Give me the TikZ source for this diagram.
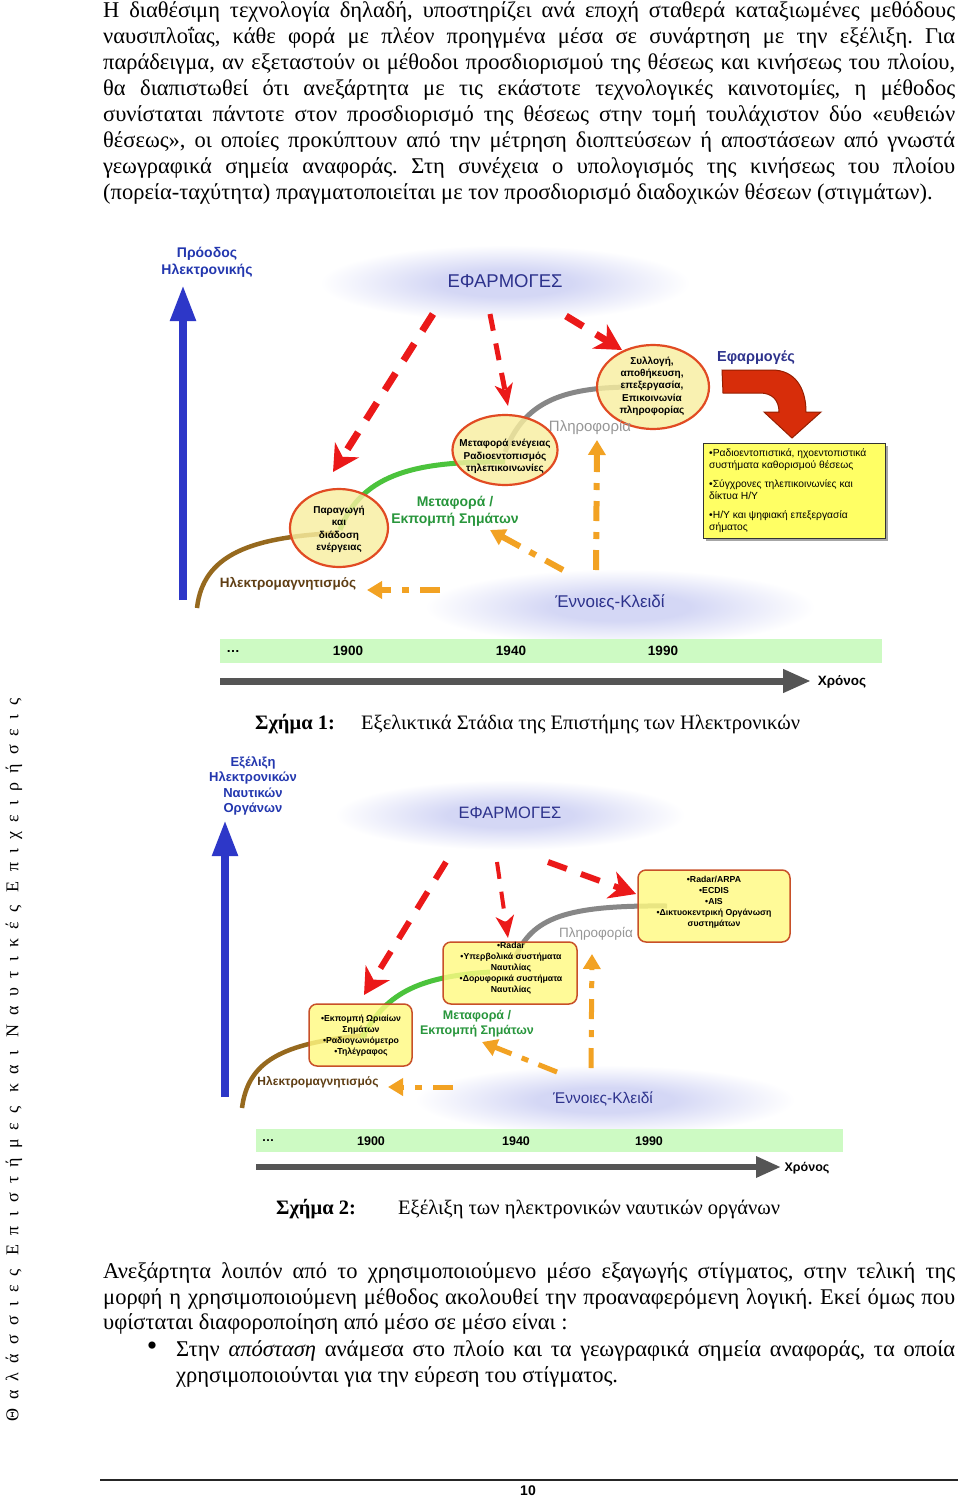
\documentclass[tikz,border=0pt]{standalone}
\usepackage{fontspec}
\usepackage{graphicx}
\setmainfont{Liberation Serif}
\newfontfamily\arial{Liberation Sans}
\newfontfamily\vertfont[LetterSpace=51]{Liberation Serif}
\usetikzlibrary{arrows.meta,shapes.geometric}
\frenchspacing

\definecolor{bluearr}{RGB}{45,55,200}
\definecolor{bluelab}{RGB}{35,55,175}
\definecolor{navy}{RGB}{45,50,140}
\definecolor{redarr}{RGB}{235,25,25}
\definecolor{orangearr}{RGB}{242,162,35}
\definecolor{browncurve}{RGB}{150,105,30}
\definecolor{greencurve}{RGB}{75,195,60}
\definecolor{graycurve}{RGB}{135,135,135}
\definecolor{greentext}{RGB}{40,150,60}
\definecolor{graytext}{RGB}{150,150,150}
\definecolor{browntext}{RGB}{95,62,20}
\definecolor{ellfill}{RGB}{248,238,160}
\definecolor{ellborder}{RGB}{225,75,35}
\definecolor{boxfill}{RGB}{255,250,130}
\definecolor{boxborder}{RGB}{200,80,40}
\definecolor{ybox}{RGB}{255,255,100}
\definecolor{timebar}{RGB}{205,250,195}
\definecolor{timearrow}{RGB}{85,85,85}
\definecolor{glowc}{RGB}{212,215,245}
\definecolor{bigred}{RGB}{215,45,10}
\definecolor{bigredb}{RGB}{150,30,0}

\pgfdeclareradialshading{glowshade}{\pgfpoint{0bp}{0bp}}{color(0bp)=(glowc); color(9bp)=(glowc); color(25bp)=(white); color(50bp)=(white)}

\begin{document}
\begin{tikzpicture}[x=1pt,y=-1pt,
  body/.style={anchor=base west, inner sep=0pt, font=\frenchspacing\fontsize{22.5}{26}\selectfont},
  captext/.style={anchor=base west, inner sep=0pt, font=\fontsize{20.5}{24}\selectfont},
  sanslab/.style={inner sep=0pt, align=center},
  glow/.style={shading=glowshade},
  redarrow/.style={draw=redarr, line width=7pt, dash pattern=on 20pt off 15pt, -{Stealth[length=26pt,width=28pt,inset=8pt]}},
  redthin/.style={draw=redarr, line width=5pt, dash pattern=on 17pt off 13pt, -{Stealth[length=22pt,width=18pt,inset=6pt]}},
  orangearrow/.style={draw=orangearr, line width=6pt, dash pattern=on 20pt off 11pt on 7pt off 11pt, -{Triangle[length=15pt,width=17pt]}},
  bluearrow/.style={draw=bluearr, line width=8pt, -{Triangle[length=36pt,width=24pt]}},
  timeline/.style={draw=timearrow, line width=7pt, -{Triangle[length=28pt,width=22pt]}},
  brownline/.style={draw=browncurve, line width=4.5pt},
  greenline/.style={draw=greencurve, line width=5pt},
  grayline/.style={draw=graycurve, line width=5pt},
  ellshape/.style={ellipse, draw=ellborder, line width=2.2pt, fill=ellfill, fill opacity=0.82, inner sep=0pt},
  elltext/.style={inner sep=0pt, align=center, font=\arial\bfseries\fontsize{10}{12.3}\selectfont},
  rbox/.style={rectangle, rounded corners=8pt, draw=boxborder, line width=1.5pt, fill=boxfill, fill opacity=0.82, inner sep=0pt},
  rboxtext/.style={inner sep=0pt, align=center, font=\arial\bfseries\fontsize{8.7}{10.9}\selectfont},
]
\fill[white] (0,0) rectangle (960,1501);
\useasboundingbox (0,0) rectangle (960,1501);

% ---------------- top paragraph ----------------
\node[body] (t1) at (103,18) {\makebox[852pt][s]{Η διαθέσιμη τεχνολογία δηλαδή, υποστηρίζει ανά εποχή σταθερά καταξιωμένες μεθόδους}};
\node[body] (t2) at (103,43.9) {\makebox[852pt][s]{ναυσιπλοΐας, κάθε φορά με πλέον προηγμένα μέσα σε συνάρτηση με την εξέλιξη. Για}};
\node[body] (t3) at (103,69.7) {\makebox[852pt][s]{παράδειγμα, αν εξεταστούν οι μέθοδοι προσδιορισμού της θέσεως και κινήσεως του πλοίου,}};
\node[body] (t4) at (103,95.6) {\makebox[852pt][s]{θα διαπιστωθεί ότι ανεξάρτητα με τις εκάστοτε τεχνολογικές καινοτομίες, η μέθοδος}};
\node[body] (t5) at (103,121.4) {\makebox[852pt][s]{συνίσταται πάντοτε στον προσδιορισμό της θέσεως στην τομή τουλάχιστον δύο «ευθειών}};
\node[body] (t6) at (103,147.3) {\makebox[852pt][s]{θέσεως», οι οποίες προκύπτουν από την μέτρηση διοπτεύσεων ή αποστάσεων από γνωστά}};
\node[body] (t7) at (103,173.2) {\makebox[852pt][s]{γεωγραφικά σημεία αναφοράς. Στη συνέχεια ο υπολογισμός της κινήσεως του πλοίου}};
\node[body] (t8) at (103,199) {(πορεία-ταχύτητα) πραγματοποιείται με τον προσδιορισμό διαδοχικών θέσεων (στιγμάτων).};

% ---------------- figure 1 ----------------
\shade[glow] (505,283) ellipse [x radius=185, y radius=38];
\shade[glow] (620,607) ellipse [x radius=195, y radius=38];

\coordinate (f1bot) at (183,600);
\coordinate (f1top) at (183,285);
\draw[bluearrow] (f1bot) -- (f1top);
\node[sanslab, text=bluelab, font=\arial\bfseries\fontsize{14}{17}\selectfont] (f1prog) at (207,262.5) {Πρόοδος\\Ηλεκτρονικής};
\node[sanslab, text=navy, font=\arial\fontsize{18.5}{22}\selectfont] (f1app) at (505,281) {ΕΦΑΡΜΟΓΕΣ};
\node[sanslab, text=navy, font=\arial\fontsize{17}{20}\selectfont] (f1key) at (610,603) {Έννοιες-Κλειδί};

% curves
\coordinate (f1b0) at (197,608);
\coordinate (f1b1) at (338,533);
\coordinate (f1g0) at (340,530);
\coordinate (f1g1) at (505,462);
\coordinate (f1r0) at (505,452);
\coordinate (f1r1) at (628,387);
\draw[brownline] (f1b0) .. controls (203,555) and (250,537) .. (f1b1);
\draw[greenline] (f1g0) .. controls (362,472) and (420,461) .. (f1g1);
\draw[grayline] (f1r0) .. controls (524,402) and (562,388) .. (f1r1);

\node[ellshape, minimum width=98pt, minimum height=78pt] (e1) at (339,528) {};
\node[ellshape, minimum width=105pt, minimum height=70pt] (e2) at (505,450) {};
\node[ellshape, minimum width=112pt, minimum height=84pt] (e3) at (653,387) {};
\node[elltext] (e1t) at (339,529.5) {Παραγωγή\\και\\διάδοση\\ενέργειας};
\node[elltext] (e2t) at (505,456.5) {Μεταφορά ενέγειας\\Ραδιοεντοπισμός\\τηλεπικοινωνίες};
\node[elltext] (e3t) at (652,386) {Συλλογή,\\αποθήκευση,\\επεξεργασία,\\Επικοινωνία\\πληροφορίας};

\node[sanslab, text=greentext, font=\arial\bfseries\fontsize{14}{17}\selectfont] (f1trans) at (455,511.5) {Μεταφορά /\\Εκπομπή Σημάτων};
\node[sanslab, text=graytext, font=\arial\fontsize{15}{18}\selectfont] (f1info) at (590,427) {Πληροφορία};
\node[sanslab, text=browntext, font=\arial\bfseries\fontsize{13.5}{16}\selectfont] (f1em) at (288,584) {Ηλεκτρομαγνητισμός};

% red arrows
\coordinate (f1a1) at (433,314); \coordinate (f1a1e) at (333,472);
\coordinate (f1a2) at (490,314); \coordinate (f1a2e) at (508,406);
\coordinate (f1a3) at (566,316); \coordinate (f1a3e) at (622,350);
\draw[redarrow] (f1a1) -- (f1a1e);
\draw[redthin] (f1a2) -- (f1a2e);
\draw[redarrow] (f1a3) -- (f1a3e);

% orange arrows
\coordinate (f1o1) at (440,590); \coordinate (f1o1e) at (367,590);
\coordinate (f1o2) at (563,570); \coordinate (f1o2e) at (490,530);
\coordinate (f1o3) at (596,570); \coordinate (f1o3e) at (597,440);
\draw[orangearrow] (f1o1) -- (f1o1e);
\draw[orangearrow] (f1o2) -- (f1o2e);
\draw[orangearrow] (f1o3) -- (f1o3e);

% applications
\node[sanslab, text=navy, font=\arial\bfseries\fontsize{14.5}{17}\selectfont] (f1apps) at (756,358) {Εφαρμογές};
\fill[bigred, draw=bigredb, line width=1pt] (722,370) -- (772,370) .. controls (795,370) and (806,388) .. (806,412) -- (821,412) -- (792,438) -- (764,412) -- (779,412) .. controls (779,400) and (772,393) .. (760,393) -- (723,393) -- cycle;
\fill[black!35] (706,446) rectangle (888,541);
\node[rectangle, draw=black!80, line width=1pt, fill=ybox, minimum width=182pt, minimum height=95pt, inner sep=0pt] (apps) at (794,490.5) {};
\node[anchor=north west, inner sep=0pt, align=left, font=\arial\fontsize{10.3}{12}\selectfont] (appst) at (709,449) {•Ραδιοεντοπιστικά, ηχοεντοπιστικά\\συστήματα καθορισμού θέσεως\\[7pt]•Σύγχρονες τηλεπικοινωνίες και\\δίκτυα Η/Υ\\[7pt]•Η/Υ και ψηφιακή επεξεργασία\\σήματος};

% timeline
\fill[timebar] (220,639) rectangle (882,663);
\node[sanslab, font=\arial\bfseries\fontsize{13.5}{16}\selectfont] (y10) at (233,651) {…};
\node[sanslab, font=\arial\bfseries\fontsize{13.5}{16}\selectfont] (y11) at (348,651) {1900};
\node[sanslab, font=\arial\bfseries\fontsize{13.5}{16}\selectfont] (y12) at (511,651) {1940};
\node[sanslab, font=\arial\bfseries\fontsize{13.5}{16}\selectfont] (y13) at (663,651) {1990};
\coordinate (tl1s) at (220,681); \coordinate (tl1e) at (811,681);
\draw[timeline] (tl1s) -- (tl1e);
\node[sanslab, font=\arial\bfseries\fontsize{13.5}{16}\selectfont] (time1) at (842,682) {Χρόνος};

\node[anchor=base, inner sep=0pt, font=\bfseries\fontsize{20.5}{24}\selectfont] (cap1a) at (295,729) {Σχήμα 1:};
\node[captext] (cap1b) at (361,729) {Εξελικτικά Στάδια της Επιστήμης των Ηλεκτρονικών};

% ---------------- figure 2 ----------------
\shade[glow] (510,815) ellipse [x radius=175, y radius=35];
\shade[glow] (605,1100) ellipse [x radius=190, y radius=35];

\coordinate (f2bot) at (225,1097);
\coordinate (f2top) at (225,820);
\draw[bluearrow] (f2bot) -- (f2top);
\node[sanslab, text=bluelab, font=\arial\bfseries\fontsize{13}{15.4}\selectfont] (f2evo) at (253,786) {Εξέλιξη\\Ηλεκτρονικών\\Ναυτικών\\Οργάνων};
\node[sanslab, text=navy, font=\arial\fontsize{16.5}{20}\selectfont] (f2app) at (510,813) {ΕΦΑΡΜΟΓΕΣ};
\node[sanslab, text=navy, font=\arial\fontsize{15.5}{19}\selectfont] (f2key) at (603,1099) {Έννοιες-Κλειδί};

\coordinate (f2b0) at (242,1108);
\coordinate (f2b1) at (367,1035);
\coordinate (f2g0) at (362,1038);
\coordinate (f2g1) at (490,972);
\coordinate (f2r0) at (515,958);
\coordinate (f2r1) at (667,906);
\draw[brownline] (f2b0) .. controls (248,1062) and (280,1043) .. (f2b1);
\draw[greenline] (f2g0) .. controls (385,995) and (415,977) .. (f2g1);
\draw[grayline] (f2r0) .. controls (532,918) and (565,905) .. (f2r1);

\node[rbox, minimum width=103pt, minimum height=62pt] (b1) at (360.5,1035) {};
\node[rbox, minimum width=134pt, minimum height=62pt] (b2) at (510,973) {};
\node[rbox, minimum width=152pt, minimum height=72pt] (b3) at (714,906) {};
\node[rboxtext] (b1t) at (361,1035.5) {•Εκπομπή Ωριαίων\\Σημάτων\\•Ραδιογωνιόμετρο\\•Τηλέγραφος};
\node[rboxtext] (b2t) at (511,968) {•Radar\\•Υπερβολικά συστήματα\\Ναυτιλίας\\•Δορυφορικά συστήματα\\Ναυτιλίας};
\node[rboxtext] (b3t) at (714,902) {•Radar/ARPA\\•ECDIS\\•AIS\\•Δικτυοκεντρική Οργάνωση\\συστημάτων};

\node[sanslab, text=greentext, font=\arial\bfseries\fontsize{12.5}{15}\selectfont] (f2trans) at (477,1023.5) {Μεταφορά /\\Εκπομπή Σημάτων};
\node[sanslab, text=graytext, font=\arial\fontsize{13.5}{16}\selectfont] (f2info) at (596,934) {Πληροφορία};
\node[sanslab, text=browntext, font=\arial\bfseries\fontsize{12}{15}\selectfont] (f2em) at (318,1082) {Ηλεκτρομαγνητισμός};

\coordinate (f2a1) at (446,862); \coordinate (f2a1e) at (364,995);
\coordinate (f2a2) at (497,862); \coordinate (f2a2e) at (508,938);
\coordinate (f2a3) at (548,862); \coordinate (f2a3e) at (636,894);
\draw[redarrow, line width=6pt] (f2a1) -- (f2a1e);
\draw[redthin, line width=4pt] (f2a2) -- (f2a2e);
\draw[redarrow, line width=6pt] (f2a3) -- (f2a3e);

\coordinate (f2o1) at (453,1087); \coordinate (f2o1e) at (388,1087);
\coordinate (f2o2) at (557,1072); \coordinate (f2o2e) at (482,1042);
\coordinate (f2o3) at (591,1068); \coordinate (f2o3e) at (592,954);
\draw[orangearrow, line width=5pt] (f2o1) -- (f2o1e);
\draw[orangearrow, line width=5pt] (f2o2) -- (f2o2e);
\draw[orangearrow, line width=5pt] (f2o3) -- (f2o3e);

\fill[timebar] (256,1129) rectangle (843,1152);
\node[sanslab, font=\arial\bfseries\fontsize{12.5}{15}\selectfont] (y20) at (268,1141) {…};
\node[sanslab, font=\arial\bfseries\fontsize{12.5}{15}\selectfont] (y21) at (371,1141) {1900};
\node[sanslab, font=\arial\bfseries\fontsize{12.5}{15}\selectfont] (y22) at (516,1141) {1940};
\node[sanslab, font=\arial\bfseries\fontsize{12.5}{15}\selectfont] (y23) at (649,1141) {1990};
\coordinate (tl2s) at (256,1167); \coordinate (tl2e) at (781,1167);
\draw[timeline, line width=6pt, -{Triangle[length=25pt,width=20pt]}] (tl2s) -- (tl2e);
\node[sanslab, font=\arial\bfseries\fontsize{12.5}{15}\selectfont] (time2) at (807,1168) {Χρόνος};

\node[anchor=base, inner sep=0pt, font=\bfseries\fontsize{20.5}{24}\selectfont] (cap2a) at (316,1214) {Σχήμα 2:};
\node[captext] (cap2b) at (398,1214) {Εξέλιξη των ηλεκτρονικών ναυτικών οργάνων};

% ---------------- side text ----------------
\node[rotate=90, inner sep=0pt, font=\vertfont\fontsize{18}{18}\selectfont] (side) at (14,1060) {Θαλάσσιες Επιστήμες και Ναυτικές Επιχειρήσεις};

% ---------------- bottom paragraph ----------------
\node[body] (u1) at (103,1278) {\makebox[852pt][s]{Ανεξάρτητα λοιπόν από το χρησιμοποιούμενο μέσο εξαγωγής στίγματος, στην τελική της}};
\node[body] (u2) at (103,1304) {\makebox[852pt][s]{μορφή η χρησιμοποιούμενη μέθοδος ακολουθεί την προαναφερόμενη λογική. Εκεί όμως που}};
\node[body] (u3) at (103,1329.5) {υφίσταται διαφοροποίηση από μέσο σε μέσο είναι :};
\node[inner sep=0pt, font=\fontsize{30}{30}\selectfont] (bul) at (152,1349) {•};
\node[body] (u4) at (176,1356) {\makebox[779pt][s]{Στην \textit{απόσταση} ανάμεσα στο πλοίο και τα γεωγραφικά σημεία αναφοράς, τα οποία}};
\node[body] (u5) at (176,1382.5) {χρησιμοποιούνται για την εύρεση του στίγματος.};

\coordinate (rule1) at (100,1480); \coordinate (rule2) at (958,1480);
\draw[line width=1.2pt, black!85] (rule1) -- (rule2);
\node[sanslab, font=\arial\bfseries\fontsize{14}{16}\selectfont] (pnum) at (528,1491) {10};
\end{tikzpicture}
\end{document}
